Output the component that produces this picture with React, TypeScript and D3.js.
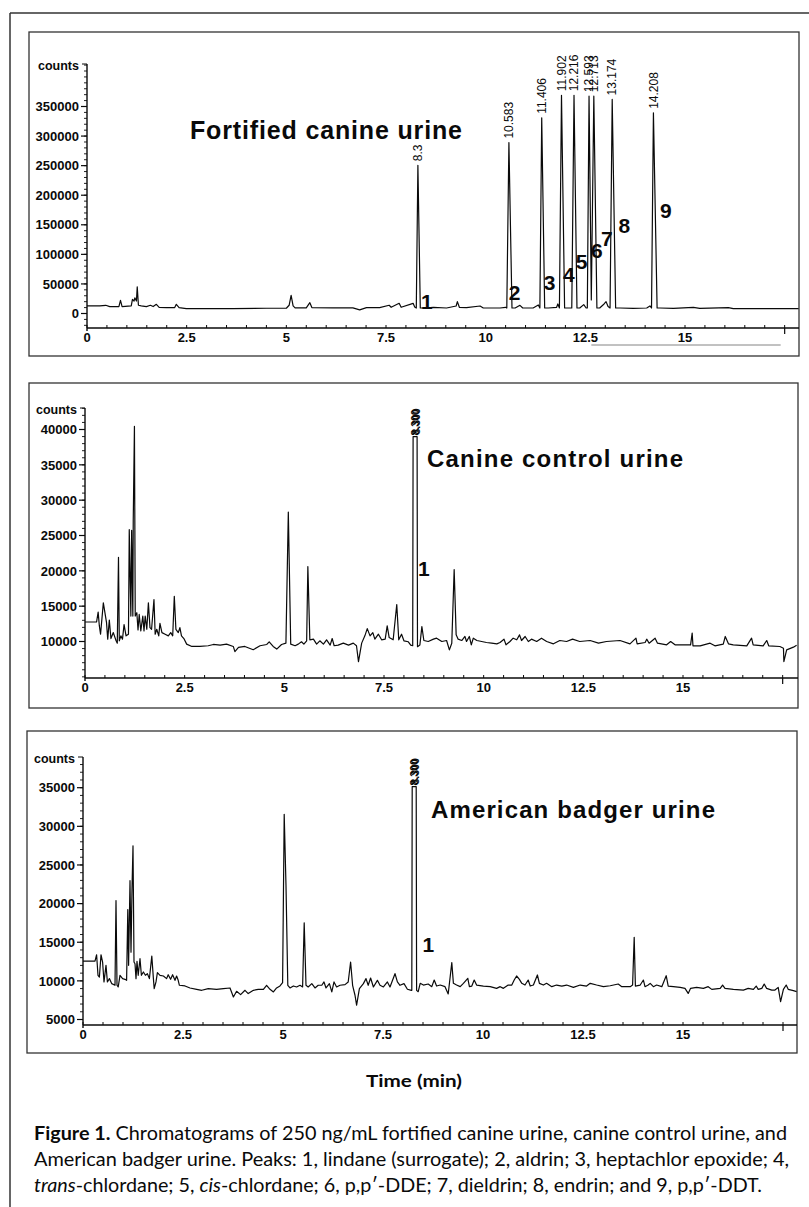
import React from "react";
import * as d3 from "d3";

type Pt = [number, number];

// time axis (min)
const timeTickLabels = [0, 2.5, 5, 7.5, 10, 12.5, 15];
const timeMinorStep = 0.5;
const timeAxisEnd = 17.5;

// count axes
const fortifiedCountTicks = [0, 50000, 100000, 150000, 200000, 250000, 300000, 350000];
const controlCountTicks = [10000, 15000, 20000, 25000, 30000, 35000, 40000];
const badgerCountTicks = [5000, 10000, 15000, 20000, 25000, 30000, 35000];

// traces: [time (min), counts]
const fortifiedTrace: Pt[] = [
  [0, 12800], [0.32, 12800], [0.47, 13900], [0.57, 11700], [0.8, 11700], [0.84, 22200], [0.88, 11700],
  [1.11, 12800], [1.14, 23900], [1.18, 21100], [1.2, 26600], [1.24, 21100], [1.26, 45000], [1.29, 13900],
  [1.36, 12800], [1.49, 11700], [1.59, 13900], [1.66, 11700], [1.74, 15500], [1.81, 10500], [1.99, 10000],
  [2.2, 10000], [2.24, 15500], [2.31, 10000], [2.49, 8300], [3.66, 8300], [4.5, 8900], [5.0, 8900],
  [5.07, 13900], [5.12, 30500], [5.17, 12800], [5.22, 9400], [5.5, 9400], [5.59, 18300], [5.64, 10000],
  [6.17, 9400], [6.67, 9400], [6.84, 6100], [7.01, 10000], [7.34, 10000], [7.58, 13900], [7.63, 10500],
  [7.83, 17200], [7.88, 10500], [8.18, 17200], [8.22, 11100], [8.26, 9300], [8.3, 250600], [8.36, 9300],
  [8.44, 9300], [8.69, 10500], [9.02, 9300], [9.26, 12700], [9.29, 20100], [9.34, 10500], [9.52, 9900],
  [9.86, 12700], [9.94, 9300], [10.36, 9300], [10.5, 10500], [10.53, 9300], [10.583, 289000], [10.66, 9300],
  [10.74, 9300], [10.86, 13800], [10.93, 9300], [11.19, 9300], [11.32, 14400], [11.36, 9300], [11.406, 330800],
  [11.48, 9300], [11.57, 9300], [11.78, 10500], [11.81, 16100], [11.85, 9300], [11.902, 369000], [11.98, 9300],
  [12.07, 9300], [12.16, 9300], [12.216, 369000], [12.29, 9300], [12.36, 9300], [12.46, 15000], [12.52, 9300],
  [12.55, 9300], [12.593, 367500], [12.65, 22900], [12.713, 367500], [12.79, 9300], [12.86, 9300],
  [12.97, 16100], [13.02, 20100], [13.07, 11700], [13.12, 9300], [13.174, 361900], [13.26, 9300],
  [13.37, 9300], [13.7, 8700], [14.04, 9300], [14.12, 12700], [14.16, 9300], [14.208, 339300], [14.3, 9300],
  [14.37, 9300], [14.71, 8700], [15.21, 10500], [15.37, 8700], [16.09, 9900], [16.21, 8200], [17.05, 8200],
  [17.85, 8200],
];

const controlTrace: Pt[] = [
  [0, 12760], [0.29, 12760], [0.33, 14160], [0.36, 12200], [0.39, 11030], [0.46, 15470], [0.54, 12660],
  [0.57, 10330], [0.61, 13040], [0.65, 10420], [0.71, 11260], [0.78, 10100], [0.81, 9770], [0.84, 21910],
  [0.86, 10100], [0.9, 10800], [0.94, 10330], [0.98, 12380], [1.03, 10800], [1.09, 11030], [1.11, 25830],
  [1.15, 13600], [1.17, 25740], [1.2, 13600], [1.21, 27140], [1.24, 40450], [1.26, 13600], [1.3, 14070],
  [1.33, 11640], [1.36, 13830], [1.4, 11500], [1.45, 13600], [1.48, 11500], [1.51, 13600], [1.55, 11730],
  [1.59, 15470], [1.63, 11960], [1.67, 11730], [1.73, 15930], [1.76, 11030], [1.8, 11730], [1.85, 10800],
  [1.88, 12570], [1.93, 11260], [2.01, 11030], [2.09, 10800], [2.15, 11260], [2.2, 10800], [2.24, 16400],
  [2.28, 11730], [2.34, 11260], [2.38, 11960], [2.42, 10800], [2.48, 10420], [2.55, 9630], [2.68, 9300],
  [2.88, 9300], [3.09, 9400], [3.22, 9580], [3.39, 9490], [3.55, 9630], [3.72, 9300], [3.76, 8560],
  [3.85, 9160], [4.01, 9300], [4.22, 8840], [4.39, 9400], [4.56, 9580], [4.62, 9960], [4.72, 9300],
  [4.81, 8930], [4.93, 9580], [5.04, 9770], [5.1, 28310], [5.16, 9630], [5.27, 9400], [5.35, 9630],
  [5.43, 9960], [5.49, 9630], [5.56, 10100], [5.59, 20600], [5.64, 10240], [5.73, 10330], [5.81, 9630],
  [5.89, 10100], [5.98, 9630], [6.06, 10240], [6.15, 9490], [6.2, 10420], [6.25, 9400], [6.35, 9490],
  [6.48, 9770], [6.61, 9490], [6.73, 9770], [6.81, 9400], [6.86, 7150], [6.94, 9770], [7.02, 10800],
  [7.08, 11820], [7.15, 10800], [7.22, 11260], [7.27, 10330], [7.36, 11030], [7.44, 10240], [7.53, 10330],
  [7.58, 12200], [7.63, 10560], [7.73, 10240], [7.82, 15230], [7.87, 10240], [7.94, 11030], [8.0, 10100],
  [8.11, 9960], [8.17, 9490], [8.22, 9400], [8.23, 39000], [8.33, 39000], [8.34, 9260], [8.4, 9500],
  [8.45, 12100], [8.5, 10140], [8.61, 10000], [8.74, 10330], [8.82, 10470], [8.95, 10000], [9.07, 10140],
  [9.14, 8820], [9.2, 9760], [9.26, 20170], [9.31, 10940], [9.36, 10330], [9.45, 10140], [9.53, 10710],
  [9.57, 10000], [9.64, 10710], [9.69, 9530], [9.74, 10470], [9.83, 10140], [9.95, 10000], [10.07, 9860],
  [10.2, 9760], [10.33, 9670], [10.41, 9860], [10.51, 10330], [10.56, 9530], [10.66, 10000], [10.74, 10470],
  [10.83, 10240], [10.9, 10940], [10.95, 10140], [11.04, 10710], [11.12, 10000], [11.2, 10330], [11.33, 10000],
  [11.45, 10470], [11.58, 10000], [11.75, 9670], [11.91, 10140], [12.08, 10000], [12.23, 10330], [12.41, 10000],
  [12.67, 10140], [12.88, 9760], [13.08, 10000], [13.42, 10140], [13.67, 9670], [13.82, 10470], [13.85, 9670],
  [14.05, 9860], [14.09, 10330], [14.15, 9760], [14.3, 10470], [14.36, 9760], [14.59, 9530], [14.69, 10000],
  [14.8, 9530], [15.19, 9530], [15.23, 11180], [15.25, 9390], [15.43, 9390], [15.68, 9760], [15.8, 9390],
  [16.01, 9630], [16.06, 10710], [16.14, 9670], [16.26, 9530], [16.6, 9390], [16.72, 10470], [16.76, 9530],
  [17.01, 9390], [17.1, 10140], [17.15, 9390], [17.43, 9290], [17.52, 9050], [17.53, 7160], [17.6, 8820],
  [17.77, 9200], [17.85, 9480],
];

const badgerTrace: Pt[] = [
  [0, 12560], [0.3, 12560], [0.34, 13380], [0.375, 10720], [0.41, 10500], [0.45, 13380], [0.49, 12440],
  [0.525, 9860], [0.575, 12010], [0.61, 9860], [0.66, 10290], [0.72, 9640], [0.8, 9430], [0.825, 20390],
  [0.85, 9430], [0.88, 9210], [0.925, 10720], [0.99, 10290], [1.05, 10200], [1.09, 10070], [1.12, 19230],
  [1.14, 12010], [1.175, 22970], [1.2, 13720], [1.225, 21890], [1.25, 27480], [1.275, 12440], [1.3, 12220],
  [1.325, 10290], [1.35, 12520], [1.38, 10720], [1.425, 12870], [1.46, 10720], [1.51, 11150], [1.56, 10720],
  [1.61, 10930], [1.66, 10290], [1.72, 13210], [1.76, 10290], [1.78, 9000], [1.825, 9860], [1.86, 11060],
  [1.925, 10720], [2.01, 10630], [2.09, 10290], [2.13, 10800], [2.19, 10200], [2.24, 10800], [2.3, 10070],
  [2.34, 10630], [2.38, 10070], [2.41, 9430], [2.55, 9340], [2.675, 9080], [2.84, 8910], [2.97, 8780],
  [3.13, 9000], [3.34, 8910], [3.51, 9000], [3.675, 9080], [3.76, 7920], [3.84, 8650], [3.94, 8220],
  [4.05, 8780], [4.13, 8350], [4.26, 8780], [4.38, 8910], [4.51, 8910], [4.59, 9430], [4.675, 8910],
  [4.76, 8570], [4.84, 9080], [4.925, 9340], [4.99, 9770], [5.03, 31560], [5.075, 22320], [5.12, 9430],
  [5.175, 9080], [5.26, 9340], [5.34, 9210], [5.425, 9430], [5.49, 9210], [5.53, 17510], [5.575, 9430],
  [5.63, 9210], [5.72, 9640], [5.8, 9080], [5.88, 9430], [5.97, 9430], [6.025, 9860], [6.075, 9080],
  [6.16, 9640], [6.22, 8570], [6.275, 9860], [6.34, 9210], [6.425, 9430], [6.55, 9510], [6.63, 9860],
  [6.69, 12440], [6.74, 9430], [6.8, 8140], [6.84, 6850], [6.91, 9000], [7.01, 9640], [7.075, 10290],
  [7.13, 9430], [7.19, 10370], [7.26, 9210], [7.36, 10070], [7.425, 9430], [7.51, 9210], [7.61, 9860],
  [7.675, 9210], [7.8, 10930], [7.86, 9860], [7.925, 9430], [8.025, 9640], [8.11, 8910], [8.21, 8780],
  [8.22, 8780], [8.23, 35150], [8.33, 35150], [8.34, 8770], [8.38, 8600], [8.43, 9680], [8.51, 9460],
  [8.63, 9590], [8.72, 9250], [8.78, 10110], [8.84, 9330], [8.93, 9460], [9.05, 9250], [9.13, 8300],
  [9.22, 12360], [9.26, 9680], [9.34, 9460], [9.43, 9250], [9.51, 9680], [9.62, 10330], [9.66, 9250],
  [9.72, 9330], [9.78, 10110], [9.84, 9460], [10.01, 9330], [10.18, 9250], [10.34, 9030], [10.43, 9250],
  [10.51, 9030], [10.63, 9460], [10.72, 9460], [10.78, 10110], [10.84, 10630], [10.91, 10200], [10.97, 9680],
  [11.05, 9460], [11.13, 10110], [11.18, 9330], [11.26, 9460], [11.36, 10760], [11.41, 9680], [11.51, 9460],
  [11.59, 9680], [11.72, 9250], [11.84, 9460], [11.97, 9330], [12.09, 9460], [12.26, 9160], [12.43, 9460],
  [12.59, 9330], [12.68, 9680], [12.84, 9460], [13.01, 9250], [13.18, 9370], [13.38, 9590], [13.47, 9250],
  [13.68, 9250], [13.74, 9460], [13.78, 15630], [13.81, 9330], [13.93, 9460], [14.01, 10110], [14.05, 9250],
  [14.13, 9460], [14.18, 9680], [14.26, 9250], [14.34, 9460], [14.47, 9250], [14.58, 10670], [14.63, 9330],
  [14.76, 9250], [14.93, 9160], [15.05, 9030], [15.13, 8380], [15.19, 9030], [15.34, 9160], [15.51, 9030],
  [15.63, 9250], [15.72, 8900], [15.93, 9030], [15.99, 9460], [16.05, 9030], [16.26, 8900], [16.51, 8810],
  [16.63, 9030], [16.76, 8900], [16.83, 9330], [16.88, 8900], [16.97, 9030], [17.03, 9590], [17.09, 9030],
  [17.22, 8810], [17.3, 8810], [17.38, 9160], [17.44, 7300], [17.51, 8900], [17.58, 9460], [17.63, 8900],
  [17.76, 8730], [17.84, 8600],
];

// retention-time labels over the peaks
const fortifiedPeakLabels = ["8.3", "10.583", "11.406", "11.902", "12.216", "12.593", "12.713", "13.174", "14.208"];
const fortifiedPeakTimes = [8.3, 10.583, 11.406, 11.902, 12.216, 12.593, 12.713, 13.174, 14.208];
const fortifiedPeakCounts = [250600, 289000, 330800, 369000, 369000, 367500, 367500, 361900, 339300];
const surrogatePeakLabel = "8.300";
const surrogatePeakTime = 8.28;
const controlSurrogateTop = 39000;
const badgerSurrogateTop = 35150;

// compound numbers (1 lindane ... 9 p,p'-DDT)
const compoundNumbers = ["1", "2", "3", "4", "5", "6", "7", "8", "9"];
const compoundTimes = [8.38, 10.58, 11.46, 11.94, 12.26, 12.64, 12.89, 13.33, 14.37];
const compoundCounts = [8000, 22000, 40000, 54000, 74500, 93700, 113500, 136800, 162000];
const controlCompoundTime = 8.35;
const controlCompoundCount = 19200;
const badgerCompoundTime = 8.49;
const badgerCompoundCount = 13700;

const HELV = "'Liberation Sans', Arial, Helvetica, sans-serif";
const CAP = "Lato, 'Open Sans', sans-serif";
const INK = "#0a0a0a";

type PanelProps = {
  box: { x: number; y: number; w: number; h: number };
  x0: number; x15: number;
  yDomain: [number, number]; yRange: [number, number];
  yTop: number; axisY: number;
  yTicks: number[]; yMinor: number;
  trace: Pt[];
  title: string; titleX: number; titleY: number; titleLen: number; titleSize: number;
  children?: (x: d3.ScaleLinear<number, number>, y: d3.ScaleLinear<number, number>) => React.ReactNode;
  id: string;
};

const Panel = (p: PanelProps) => {
  const x = d3.scaleLinear().domain([0, 15]).range([p.x0, p.x15]);
  const y = d3.scaleLinear().domain(p.yDomain).range(p.yRange);
  const right = p.box.x + p.box.w;
  const yLo = y.invert(p.axisY);
  const yHi = y.invert(p.yTop);
  const minor = d3.range(Math.ceil(yLo / p.yMinor) * p.yMinor, yHi, p.yMinor);
  const xMinor = d3.range(0, timeAxisEnd + 0.001, timeMinorStep);
  const line = d3.line<Pt>().x((d) => x(d[0])).y((d) => y(d[1]));
  const fmt = d3.format("d");
  return (
    <g>
      <defs>
        <clipPath id={p.id}>
          <rect x={p.x0} y={p.yTop - 30} width={right - p.x0} height={p.axisY - p.yTop + 30} />
        </clipPath>
      </defs>
      <rect x={p.box.x} y={p.box.y} width={p.box.w} height={p.box.h} fill="none" stroke="#333" strokeWidth={1.3} />
      {/* y axis */}
      <line x1={p.x0} x2={p.x0} y1={p.yTop} y2={p.axisY + 3} stroke={INK} strokeWidth={1.4} />
      {minor.map((v) => (
        <line key={"m" + v} x1={p.x0 - 3} x2={p.x0} y1={y(v)} y2={y(v)} stroke={INK} strokeWidth={0.9} />
      ))}
      {p.yTicks.map((v) => (
        <g key={"t" + v}>
          <line x1={p.x0 - 6} x2={p.x0} y1={y(v)} y2={y(v)} stroke={INK} strokeWidth={1.2} />
          <text x={p.x0 - 8} y={y(v)} dy="0.36em" textAnchor="end" fontFamily={HELV} fontWeight="bold" fontSize={13} fill={INK}>
            {fmt(v)}
          </text>
        </g>
      ))}
      <line x1={p.x0 - 5} x2={p.x0} y1={p.yTop} y2={p.yTop} stroke={INK} strokeWidth={1} />
      <text x={p.x0 - 8} y={p.yTop + 6} textAnchor="end" fontFamily={HELV} fontWeight="bold" fontSize={12.5} fill={INK}>
        counts
      </text>
      {/* x axis */}
      <line x1={p.x0} x2={right} y1={p.axisY} y2={p.axisY} stroke={INK} strokeWidth={1.5} />
      {xMinor.map((t) => (
        <line key={"x" + t} x1={x(t)} x2={x(t)} y1={p.axisY - 3} y2={p.axisY} stroke={INK} strokeWidth={1} />
      ))}
      <line x1={x(timeAxisEnd)} x2={x(timeAxisEnd)} y1={p.axisY} y2={p.axisY + 6} stroke={INK} strokeWidth={1.2} />
      {timeTickLabels.map((t) => (
        <text key={"xl" + t} x={x(t)} y={p.axisY + 14} textAnchor="middle" fontFamily={HELV} fontWeight="bold" fontSize={13} fill={INK}>
          {t}
        </text>
      ))}
      {/* trace */}
      <path d={line(p.trace) || ""} fill="none" stroke={INK} strokeWidth={1.2} strokeLinejoin="round" clipPath={`url(#${p.id})`} />
      <text x={p.titleX} y={p.titleY} fontFamily={HELV} fontWeight="bold" fontSize={p.titleSize} fill={INK}
        textLength={p.titleLen} lengthAdjust="spacing">
        {p.title}
      </text>
      {p.children && p.children(x, y)}
    </g>
  );
};

const rotLabel = (key: string, px: number, py: number, label: string, size = 12, weight = "normal") => (
  <text key={key} transform={`translate(${px},${py}) rotate(-90)`} dy="0.35em" fontFamily={HELV}
    fontSize={size} fontWeight={weight} fill={INK}>
    {label}
  </text>
);

const numLabel = (key: string, px: number, py: number, label: string) => (
  <text key={key} x={px} y={py} fontFamily={HELV} fontWeight="bold" fontSize={21} fill={INK}>
    {label}
  </text>
);

const App = () => {
  return (
    <svg width={809} height={1207} style={{ position: "absolute", left: 0, top: 0, background: "#fff" }}>
      <rect x={0} y={0} width={809} height={1207} fill="#fff" />
      {/* outer frame */}
      <line x1={10} x2={809} y1={13} y2={13} stroke="#333" strokeWidth={1.5} />
      <line x1={10} x2={10} y1={13} y2={1207} stroke="#333" strokeWidth={1.5} />

      <Panel id="c1" box={{ x: 29, y: 32, w: 770, h: 324 }} x0={87} x15={685}
        yDomain={[0, 350000]} yRange={[313.5, 106.5]} yTop={64} axisY={328}
        yTicks={fortifiedCountTicks} yMinor={10000} trace={fortifiedTrace}
        title="Fortified canine urine" titleX={190} titleY={139} titleLen={272} titleSize={25}>
        {(x, y) => (
          <g>
            {fortifiedPeakLabels.map((l, i) =>
              rotLabel("p" + i, x(fortifiedPeakTimes[i]), y(fortifiedPeakCounts[i]) - 4, l))}
            {compoundNumbers.map((n, i) => numLabel("n" + i, x(compoundTimes[i]), y(compoundCounts[i]), n))}
            <line x1={x(12.65)} x2={x(17.4)} y1={345} y2={345} stroke="#666" strokeWidth={0.8} />
          </g>
        )}
      </Panel>

      <Panel id="c2" box={{ x: 29, y: 383, w: 769, h: 325 }} x0={85} x15={683}
        yDomain={[10000, 40000]} yRange={[641.5, 429.5]} yTop={408} axisY={678}
        yTicks={controlCountTicks} yMinor={1000} trace={controlTrace}
        title="Canine control urine" titleX={427} titleY={467} titleLen={256} titleSize={24}>
        {(x, y) => (
          <g>
            {rotLabel("s1", x(surrogatePeakTime), y(controlSurrogateTop) - 1, surrogatePeakLabel, 10.5, "bold")}
            {rotLabel("s2", x(surrogatePeakTime) + 0.8, y(controlSurrogateTop) - 2, surrogatePeakLabel, 10.5, "bold")}
            {numLabel("n", x(controlCompoundTime), y(controlCompoundCount), "1")}
          </g>
        )}
      </Panel>

      <Panel id="c3" box={{ x: 27, y: 731, w: 770, h: 322 }} x0={83} x15={683}
        yDomain={[5000, 35000]} yRange={[1019.5, 787.7]} yTop={757} axisY={1025}
        yTicks={badgerCountTicks} yMinor={1000} trace={badgerTrace}
        title="American badger urine" titleX={431} titleY={818} titleLen={284} titleSize={24}>
        {(x, y) => (
          <g>
            {rotLabel("s1", x(surrogatePeakTime), y(badgerSurrogateTop) - 1, surrogatePeakLabel, 10.5, "bold")}
            {rotLabel("s2", x(surrogatePeakTime) + 0.8, y(badgerSurrogateTop) - 2, surrogatePeakLabel, 10.5, "bold")}
            {numLabel("n", x(badgerCompoundTime), y(badgerCompoundCount), "1")}
          </g>
        )}
      </Panel>

      {/* axis title + caption */}
      <text x={414} y={1087} textAnchor="middle" fontFamily={CAP} fontWeight="bold" fontSize={17} fill={INK}
        textLength={96} lengthAdjust="spacingAndGlyphs">
        Time (min)
      </text>
      <text x={34} y={1140} fontFamily={CAP} fontSize={18.5} fill={INK} textLength={753} lengthAdjust="spacingAndGlyphs">
        <tspan fontWeight="bold">Figure 1.</tspan> Chromatograms of 250 ng/mL fortified canine urine, canine control urine, and
      </text>
      <text x={34} y={1166} fontFamily={CAP} fontSize={18.5} fill={INK} textLength={755} lengthAdjust="spacingAndGlyphs">
        American badger urine. Peaks: 1, lindane (surrogate); 2, aldrin; 3, heptachlor epoxide; 4,
      </text>
      <text x={34} y={1192} fontFamily={CAP} fontSize={18.5} fill={INK} textLength={728} lengthAdjust="spacingAndGlyphs">
        <tspan fontStyle="italic">trans</tspan>-chlordane; 5, <tspan fontStyle="italic">cis</tspan>-chlordane;  6, p,p′-DDE; 7, dieldrin; 8, endrin; and 9, p,p′-DDT.
      </text>
    </svg>
  );
};

export default App;
